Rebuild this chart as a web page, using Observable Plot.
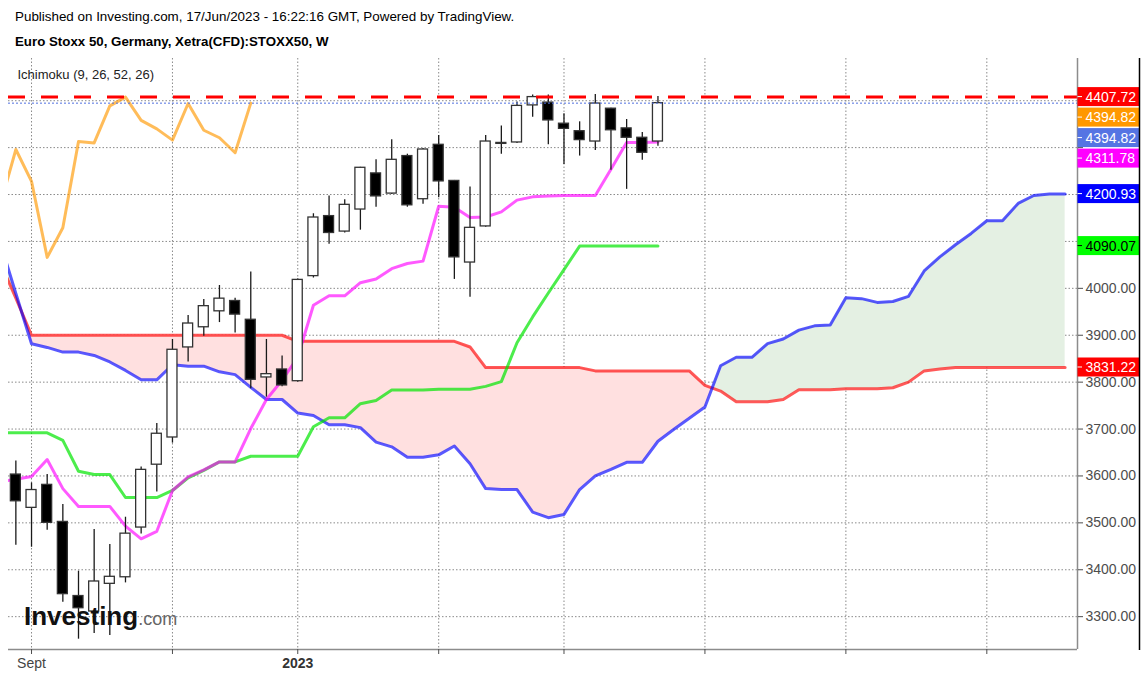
<!DOCTYPE html>
<html><head><meta charset="utf-8">
<script src="https://cdn.jsdelivr.net/npm/d3@7"></script>
<script src="https://cdn.jsdelivr.net/npm/@observablehq/plot@0.6"></script>
<style>
html,body{margin:0;padding:0;background:#fff;overflow:hidden;width:1147px;height:678px;font-family:"Liberation Sans",Arial,sans-serif;}
#header{height:50px;position:relative;}
#pub{position:absolute;left:15px;top:9px;font-size:13.4px;color:#000;white-space:nowrap;}
#title{position:absolute;left:15px;top:34px;font-size:13.3px;font-weight:bold;color:#000;white-space:nowrap;}
#chart{position:relative;height:628px;}
#logo{position:absolute;left:24px;top:603px;white-space:nowrap;line-height:1;}
#logo .a{font-size:26px;font-weight:bold;color:#111;}
#logo .b{font-size:18px;color:#666;}
</style></head>
<body>
<div id="header"><div id="pub">Published on Investing.com, 17/Jun/2023 - 16:22:16 GMT, Powered by TradingView.</div><div id="title">Euro Stoxx 50, Germany, Xetra(CFD):STOXX50, W</div></div>
<div id="chart"></div>
<div id="logo"><span class="a">Investing</span><span class="b">.com</span></div>
<script>
// Weekly bars, bar 1 = week of 2022-08-29, bar 42 = week of 2023-06-12
const firstBarUTC = Date.UTC(2022, 7, 29);
const WEEK = 7 * 24 * 3600 * 1000;
const barTime = i => new Date(firstBarUTC + (i - 1) * WEEK);

// Candles (bars 1..42)
const open  = [3603,3532,3581,3502,3344,3311,3370,3384,3490,3624,3682,3874,3917,3951,3973,3933,3810,3827,3802,4026,4154,4121,4168,4245,4202,4282,4190,4306,4229,4055,4132,4308,4311,4390,4396,4351,4335,4313,4383,4341,4321,4313];
const high  = [3632,3585,3603,3539,3397,3486,3454,3512,3619,3712,3891,3942,3976,4006,3979,4035,3891,3856,4020,4159,4197,4189,4258,4274,4317,4286,4298,4326,4230,4216,4326,4346,4397,4412,4412,4372,4355,4413,4384,4360,4332,4409];
const low   = [3452,3448,3484,3331,3252,3264,3260,3372,3476,3566,3670,3843,3898,3927,3905,3786,3768,3790,3800,4022,4094,4118,4124,4173,4200,4173,4179,4193,4019,3981,4130,4286,4309,4365,4306,4264,4282,4294,4252,4211,4273,4303];
const close = [3546,3570,3500,3348,3318,3375,3385,3477,3613,3690,3869,3925,3962,3978,3944,3805,3817,3793,4018,4151,4118,4178,4257,4196,4274,4177,4296,4228,4066,4129,4313,4310,4389,4407.72,4358,4340,4316,4394,4337,4321,4289,4394.82];

// Ichimoku lines (bars 0..42)
const tenkan = [3588,3593,3599,3635,3573,3535,3535,3535,3493,3466,3482,3569,3598,3613,3630,3630,3701,3763,3804,3853,3964,3984,3984,4012,4020,4042,4053,4058,4175,4173,4151,4152,4163,4188,4195,4197,4198,4198,4198,4254,4311,4311,4311.78];
const kijun  = [3692,3692,3692,3692,3676,3610,3603,3603,3554,3554,3554,3569,3596,3612,3630,3630,3642,3642,3642,3642,3705,3724,3724,3754,3761,3783,3783,3783,3785,3785,3785,3791,3801,3884,3939,3990,4040,4090,4090.07,4090.07,4090.07,4090.07,4090.07];
// Leading spans (bars 0..68)
const senkouA = [4098,3989,3882,3874,3864,3864,3857,3843,3825,3805,3805,3837,3834,3834,3822,3816,3789,3763,3763,3734,3729,3709,3709,3703,3672,3662,3640,3640,3645,3664,3626,3573,3571,3571,3523,3511,3518,3571,3600,3614,3629,3629,3674,3699,3723,3747,3835,3853,3853,3882,3892,3911,3920,3922,3980,3978,3970,3972,3983,4037,4067,4093,4117,4144,4144,4181,4198,4200.93,4200.93];
const senkouB = [4055,3979,3900,3900,3900,3900,3900,3900,3900,3900,3900,3900,3900,3900,3900,3900,3900,3900,3900,3887,3887,3887,3887,3887,3887,3887,3887,3887,3887,3887,3875,3831,3831,3831,3831,3831,3831,3831,3824,3824,3824,3824,3824,3824,3824,3793,3781,3758,3758,3758,3763,3784,3784,3784,3786,3786,3786,3788,3800,3824,3828,3831,3831.22,3831.22,3831.22,3831.22,3831.22,3831.22,3831.22];

const markLevel = 4407.72;
const yTicks = [3300,3400,3500,3600,3700,3800,3900,4000,4100,4200,4300,4400];
const hiddenTickLabels = [4100,4200,4300,4400]; // covered by the price labels in the reference
const monthTicks = ["2022-09-05","2022-11-07","2023-01-02","2023-03-06","2023-05-01","2023-07-03","2023-09-04","2023-11-06"].map(s => new Date(s + "T00:00:00Z"));
const xLabels = [{t: new Date("2022-09-05T00:00:00Z"), label: "Sept", bold: false}, {t: new Date("2023-01-02T00:00:00Z"), label: "2023", bold: true}];

// Build tables
const candles = open.map((o, k) => ({t: barTime(k + 1), open: o, high: high[k], low: low[k], close: close[k]}));
const halfBody = 0.319 * WEEK;
const tenkanPts = tenkan.map((v, i) => ({t: barTime(i), v}));
const kijunPts = kijun.map((v, i) => ({t: barTime(i), v}));
const chikouPts = close.slice(25).map((v, i) => ({t: barTime(i), v}));
const spanAPts = senkouA.map((v, i) => ({t: barTime(i), v}));
const spanBPts = senkouB.map((v, i) => ({t: barTime(i), v}));
const cloud = [];
for (let i = 0; i < senkouA.length; i++) {
  const a = senkouA[i], b = senkouB[i];
  if (i > 0) {
    const d0 = senkouA[i-1] - senkouB[i-1], d1 = a - b;
    if (d0 * d1 < 0) {
      const f = d0 / (d0 - d1);
      const m = senkouA[i-1] + f * (a - senkouA[i-1]);
      cloud.push({t: barTime(i - 1 + f), a: m, b: m});
    }
  }
  cloud.push({t: barTime(i), a, b});
}

const grid = {stroke: "#8a8a8a", strokeDasharray: "1.5 2", strokeWidth: 1};
const lineOpt = {x: "t", y: "v", strokeWidth: 3, strokeOpacity: 0.65, clip: true};

const chart = Plot.plot({
  width: 1147, height: 628,
  marginTop: 8, marginBottom: 29, marginLeft: 8, marginRight: 70,
  style: {background: "white", color: "#4d4d4d", fontFamily: "'Liberation Sans', Arial, sans-serif", overflow: "visible"},
  x: {type: "utc", domain: [barTime(0.53), barTime(68.79)], axis: null, label: null},
  y: {domain: [3230, 4490], axis: null, label: null},
  marks: [
    Plot.ruleY(yTicks, grid),
    Plot.ruleX(monthTicks, grid),
    Plot.areaY(cloud, {x: "t", y1: "a", y2: d => Math.max(d.a, d.b), fill: "#ffe0e0", clip: true}),
    Plot.areaY(cloud, {x: "t", y1: "b", y2: d => Math.max(d.a, d.b), fill: "#e4f0e3", clip: true}),
    Plot.line(spanBPts, {...lineOpt, stroke: "#ff0000"}),
    Plot.line(spanAPts, {...lineOpt, stroke: "#0000ff"}),
    Plot.line(kijunPts, {...lineOpt, stroke: "#00e600", strokeOpacity: 0.7}),
    Plot.line(tenkanPts, {...lineOpt, stroke: "#ff00ff"}),
    Plot.line(chikouPts, {...lineOpt, stroke: "#ff9800"}),
    Plot.ruleX(candles, {x: "t", y1: "low", y2: "high", stroke: "#1a1a1a", strokeWidth: 1.3}),
    Plot.rect(candles, {
      x1: d => new Date(d.t.getTime() - halfBody), x2: d => new Date(d.t.getTime() + halfBody),
      y1: "open", y2: "close",
      fill: d => d.close < d.open ? "#000000" : "#ffffff",
      stroke: "#333333", strokeWidth: 1.3
    }),
    Plot.ruleY([close[close.length - 1]], {stroke: "#4f6fe0", strokeDasharray: "2 2", strokeWidth: 1}),
    Plot.ruleY([markLevel], {stroke: "#ff0000", strokeWidth: 3, strokeDasharray: "17 16"}),
    Plot.ruleX([barTime(68.79)], {stroke: "#8c8c8c", strokeWidth: 1.5}),
    Plot.ruleY([3230], {stroke: "#8c8c8c", strokeWidth: 1.5}),
    Plot.axisY(yTicks, {anchor: "right", label: null, tickSize: 5, tickPadding: 3, fontSize: 14,
      tickFormat: d => hiddenTickLabels.includes(d) ? "" : d.toFixed(2)}),
    Plot.axisX(monthTicks, {anchor: "bottom", label: null, tickSize: 5, tickFormat: () => ""}),
    Plot.text(xLabels.filter(d => !d.bold), {x: "t", text: "label", frameAnchor: "bottom", dy: 18, lineAnchor: "bottom", fontSize: 14, fill: "#444"}),
    Plot.text(xLabels.filter(d => d.bold), {x: "t", text: "label", frameAnchor: "bottom", dy: 18, lineAnchor: "bottom", fontSize: 14, fontWeight: "bold", fill: "#333"}),
    Plot.text(["Ichimoku (9, 26, 52, 26)"], {text: d => d, frameAnchor: "top-left", dx: 9, dy: 20, lineAnchor: "bottom", textAnchor: "start", fontSize: 13, fill: "#222"})
  ]
});
document.getElementById("chart").appendChild(chart);

// Price labels on the right scale, placed with the plot's own y scale
const yScale = chart.scale("y");
const svg = d3.select(chart);
const lastClose = close[close.length - 1];
const priceLabels = [
  {v: markLevel, bg: "#ff0000", fg: "#ffffff"},
  {v: lastClose, bg: "#ff9800", fg: "#ffffff"},
  {v: lastClose, bg: "#5574e3", fg: "#ffffff"},
  {v: tenkan[tenkan.length - 1], bg: "#ff00ff", fg: "#ffffff"},
  {v: senkouA[senkouA.length - 1], bg: "#0000ff", fg: "#ffffff"},
  {v: kijun[kijun.length - 1], bg: "#00ff00", fg: "#000000"},
  {v: senkouB[senkouB.length - 1], bg: "#ff0000", fg: "#ffffff"}
];
let prev = -Infinity;
const axisX0 = 1147 - 70;
const g = svg.append("g").attr("text-anchor", "start");
for (const p of priceLabels) {
  const cy = Math.max(yScale.apply(p.v), prev + 20.5);
  prev = cy;
  g.append("rect").attr("x", axisX0 + 0.5).attr("y", cy - 9.5).attr("width", 61.5).attr("height", 19).attr("fill", p.bg);
  g.append("line").attr("x1", axisX0 + 0.5).attr("x2", axisX0 + 5).attr("y1", cy).attr("y2", cy).attr("stroke", p.fg);
  g.append("text").attr("x", axisX0 + 8.5).attr("y", cy).attr("dy", "0.36em").attr("fill", p.fg)
    .attr("text-anchor", "start").attr("font-size", 14)
    .attr("font-family", "'Liberation Sans', Arial, sans-serif").text(p.v.toFixed(2));
}
// outer right border
g.append("line").attr("x1", 1139.5).attr("x2", 1139.5).attr("y1", 8).attr("y2", 600).attr("stroke", "#000").attr("stroke-width", 1.5);
</script>
</body></html>
